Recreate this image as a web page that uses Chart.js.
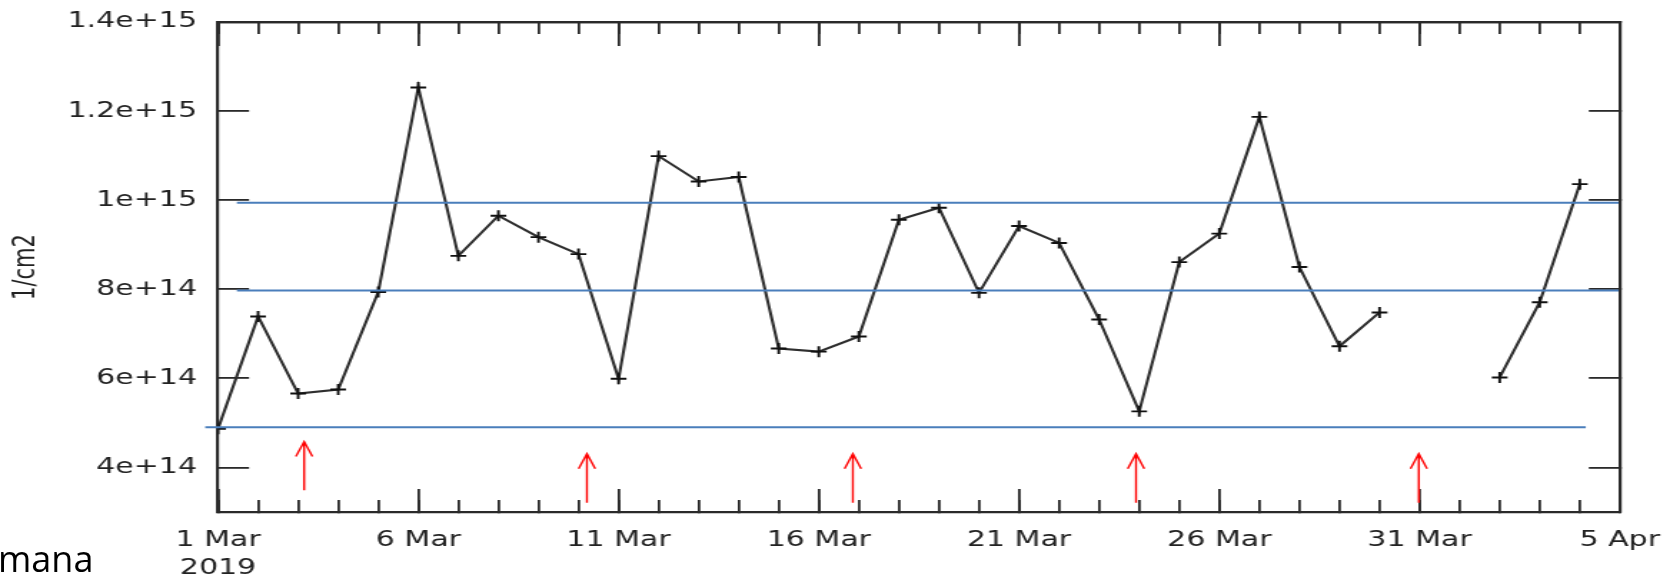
<!DOCTYPE html>
<html>
<head>
<meta charset="utf-8">
<script src="https://cdn.jsdelivr.net/npm/chart.js@4.4.1/dist/chart.umd.min.js"></script>
<style>
  html, body { margin: 0; padding: 0; background: #fff; overflow: hidden; }
  #wrap { position: relative; width: 1670px; height: 583px; }
  #chart { position: absolute; left: 0; top: 0; }
  #note { position: absolute; left: -2px; top: 541px; font-family: 'Open Sans', sans-serif; font-size: 36px; line-height: 1; color: #000; }
</style>
</head>
<body>
<div id="wrap">
  <!-- the source plot is a horizontally stretched picture, so the canvas is drawn narrow and stretched -->
  <canvas id="chart" width="1168" height="583" style="width:1670px;height:583px"></canvas>
  <div id="note">mana</div>
</div>
<script>
// daily values, 1 Mar 2019 .. 4 Apr 2019 (null = no data)
const dates = [
  '2019-03-01', '2019-03-02', '2019-03-03', '2019-03-04', '2019-03-05',
  '2019-03-06', '2019-03-07', '2019-03-08', '2019-03-09', '2019-03-10',
  '2019-03-11', '2019-03-12', '2019-03-13', '2019-03-14', '2019-03-15',
  '2019-03-16', '2019-03-17', '2019-03-18', '2019-03-19', '2019-03-20',
  '2019-03-21', '2019-03-22', '2019-03-23', '2019-03-24', '2019-03-25',
  '2019-03-26', '2019-03-27', '2019-03-28', '2019-03-29', '2019-03-30',
  '2019-03-31', '2019-04-01', '2019-04-02', '2019-04-03', '2019-04-04'
];
const values = [
  4.87e14, 7.39e14, 5.66e14, 5.75e14, 7.94e14,
  1.253e15, 8.75e14, 9.65e14, 9.17e14, 8.79e14,
  5.99e14, 1.099e15, 1.042e15, 1.052e15, 6.67e14,
  6.60e14, 6.94e14, 9.56e14, 9.83e14, 7.92e14,
  9.42e14, 9.04e14, 7.32e14, 5.26e14, 8.61e14,
  9.25e14, 1.187e15, 8.50e14, 6.72e14, 7.48e14,
  null, null, 6.02e14, 7.71e14, 1.036e15
];

// x axis runs in days from 1 Mar
const xMin = 0;
const xMax = 35;
const xTickLabels = [['1 Mar', '2019'], '6 Mar', '11 Mar', '16 Mar', '21 Mar', '26 Mar', '31 Mar', '5 Apr'];
const yMin = 3e14;
const yMax = 1.4e15;
const yTickValues = [4e14, 6e14, 8e14, 1e15, 1.2e15, 1.4e15];
const yTickLabels = ['4e+14', '6e+14', '8e+14', '1e+15', '1.2e+15', '1.4e+15'];

// horizontal reference lines drawn over the plot
const refLevels = [9.94e14, 7.97e14, 4.90e14];
const refStarts = [0.47, 0.47, -0.32];
const refEnds = [34.97, 34.97, 34.15];

// red arrows (day position, tip value, tail value)
const arrowDays = [2.15, 9.21, 15.85, 22.92, 29.98];
const arrowTips = [4.58e14, 4.31e14, 4.31e14, 4.31e14, 4.31e14];
const arrowTails = [3.49e14, 3.21e14, 3.21e14, 3.21e14, 3.21e14];

const axisColor = '#2a2a2a';
const textColor = '#222';
const tickFont = { family: 'DejaVu Sans', size: 21, lineHeight: 1.35 };

const day0 = Date.parse(dates[0]);
const seriesPoints = dates.map((d, i) => ({
  x: (Date.parse(d) - day0) / 86400000,
  y: values[i]
}));

const refDatasets = refLevels.map((level, i) => ({
  data: [{ x: refStarts[i], y: level }, { x: refEnds[i], y: level }],
  borderColor: '#4a7ebb',
  borderWidth: 2,
  pointRadius: 0,
  clip: false,
  xAxisID: 'x',
  yAxisID: 'y'
}));

const arrowPlugin = {
  id: 'arrows',
  afterDatasetsDraw(chart) {
    const { ctx, scales } = chart;
    ctx.save();
    ctx.strokeStyle = '#ff0000';
    ctx.lineWidth = 1.4;
    arrowDays.forEach((d, i) => {
      const px = scales.x.getPixelForValue(d);
      const tip = scales.y.getPixelForValue(arrowTips[i]);
      const tail = scales.y.getPixelForValue(arrowTails[i]);
      ctx.beginPath();
      ctx.moveTo(px, tail);
      ctx.lineTo(px, tip);
      ctx.moveTo(px - 5.8, tip + 15);
      ctx.lineTo(px, tip);
      ctx.lineTo(px + 5.8, tip + 15);
      ctx.stroke();
    });
    ctx.restore();
  }
};

const setYTicks = s => { s.ticks = yTickValues.map(v => ({ value: v })); };
// label padding must not push the plot area around
const noPad = s => { s.paddingTop = 0; s.paddingBottom = 0; s.paddingLeft = 0; s.paddingRight = 0; };

// helper for tick-only axes (ticks point into the plot)
function tickAxis(axis, position, step, len, weight) {
  const isX = axis === 'x';
  return {
    type: 'linear',
    axis: axis,
    position: position,
    weight: weight,
    min: isX ? xMin : yMin,
    max: isX ? xMax : yMax,
    ticks: { display: false, stepSize: step, autoSkip: false },
    grid: { drawOnChartArea: false, drawTicks: true, tickLength: -len, color: axisColor, lineWidth: 1.8 },
    border: { display: true, color: axisColor, width: 2.2 },
    afterBuildTicks: isX ? undefined : setYTicks,
    afterFit: s => { noPad(s); if (isX) s.height = 0; else s.width = 0; }
  };
}

const ctx = document.getElementById('chart').getContext('2d');
new Chart(ctx, {
  type: 'line',
  data: {
    datasets: [
      ...refDatasets,
      {
        label: 'TEC',
        data: seriesPoints,
        borderColor: '#2e2e2e',
        borderWidth: 2.1,
        tension: 0,
        spanGaps: false,
        pointStyle: 'cross',
        pointRadius: 5.5,
        pointBorderColor: '#111',
        pointBorderWidth: 1.9,
        xAxisID: 'x',
        yAxisID: 'y'
      }
    ]
  },
  options: {
    responsive: false,
    devicePixelRatio: 1,
    animation: false,
    layout: { padding: { left: 0, right: 35.1, top: 22, bottom: 0 } },
    plugins: {
      legend: { display: false },
      tooltip: { enabled: false }
    },
    scales: {
      x: tickAxis('x', 'bottom', 1, 12, 0),
      xMajor: {
        type: 'linear',
        axis: 'x',
        position: 'bottom',
        weight: 1,
        min: xMin,
        max: xMax,
        ticks: {
          stepSize: 5,
          autoSkip: false,
          maxRotation: 0,
          padding: 37,
          color: textColor,
          font: tickFont,
          callback: v => xTickLabels[Math.round(v / 5)]
        },
        grid: { drawOnChartArea: false, drawTicks: true, tickLength: -23, color: axisColor, lineWidth: 1.8 },
        border: { display: false },
        afterFit: s => { noPad(s); s.height = 71; }
      },
      xTop: tickAxis('x', 'top', 1, 12, 0),
      xTopMajor: tickAxis('x', 'top', 5, 24, 1),
      y: {
        type: 'linear',
        position: 'left',
        min: yMin,
        max: yMax,
        afterBuildTicks: setYTicks,
        ticks: {
          padding: 36.4,
          color: textColor,
          font: tickFont,
          callback: (v, i) => yTickLabels[i]
        },
        grid: { drawOnChartArea: false, drawTicks: true, tickLength: -21.7, color: axisColor, lineWidth: 1.8 },
        border: { display: true, color: axisColor, width: 2.2 },
        title: {
          display: true,
          text: '1/cm2',
          color: textColor,
          font: { family: 'DejaVu Sans', size: 21 },
          padding: { top: 5.5, bottom: 0 }
        },
        afterFit: s => { noPad(s); s.width = 152.5; }
      },
      yRight: tickAxis('y', 'right', 0, 21.7, 0)
    }
  },
  plugins: [arrowPlugin]
});
</script>
</body>
</html>
